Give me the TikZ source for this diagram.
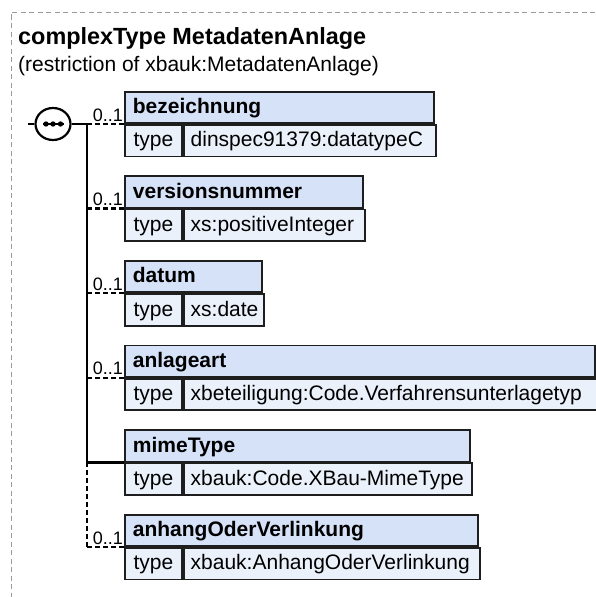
\documentclass[tikz,border=0pt]{standalone}
\usepackage{fontspec}
\setmainfont{Liberation Sans}
\usepackage{tikz}
\usetikzlibrary{positioning,shapes.geometric}
\definecolor{hdrblue}{HTML}{D6E2F7}
\definecolor{rowblue}{HTML}{EBF1FB}
\definecolor{boxline}{HTML}{1E1E1E}
\definecolor{frame}{HTML}{9A9A9A}

\begin{document}
\begin{tikzpicture}[x=1pt, y=-1pt,
  cell/.style={draw=boxline, line width=1.8pt, inner xsep=0pt, inner ysep=0pt,
    minimum height=31.5pt, text height=16pt, text depth=3.5pt,
    font=\fontsize{21}{24}\selectfont},
  hdrcell/.style={cell, fill=hdrblue, inner xsep=8pt, align=left,
    font=\fontsize{21}{24}\selectfont\bfseries},
  typecell/.style={cell, fill=rowblue, minimum width=57pt},
  valcell/.style={cell, fill=rowblue, inner xsep=7pt, align=left},
  wire/.style={line width=2.4pt, black},
  optwire/.style={wire, dash pattern=on 4.5pt off 3.5pt},
  mult/.style={inner sep=0pt, font=\fontsize{18}{20}\selectfont}]
\useasboundingbox (0,0) rectangle (595,597);
% outer frame
\draw[frame, line width=1pt, dash pattern=on 5pt off 3.5pt] (595,12) -- (11,12) -- (11,597);
\node[anchor=base west, inner sep=0pt, font=\fontsize{23.4}{26}\selectfont\bfseries] (title) at (18,44) {complexType MetadatenAnlage};
\node[anchor=base west, inner sep=0pt, font=\fontsize{21}{24}\selectfont] (restr) at (18,71) {(restriction of xbauk:MetadatenAnlage)};
% elements
\foreach \i/\nm/\typ/\dy/\vw in {
    1/bezeichnung/dinspec91379:datatypeC/124/252,
    2/versionsnummer/xs:positiveInteger/208.6/181,
    3/datum/xs:date/293.2/80,
    4/anlageart/xbeteiligung:Code.Verfahrensunterlagetyp/377.8/413,
    5/mimeType/xbauk:Code.XBau-MimeType/462.4/288,
    6/anhangOderVerlinkung/xbauk:AnhangOderVerlinkung/547/296}{
  \node[typecell, anchor=north west] (t\i) at (124,\dy) {type};
  \pgfmathsetmacro\vtw{\vw-14}
  \node[valcell, text width=\vtw pt, right=0pt of t\i] (v\i) {\typ};
  \pgfmathsetmacro\tw{57+\vw-16}
  \node[hdrcell, text width=\tw pt, anchor=south west] (h\i) at (t\i.north west) {\nm};
  \coordinate (j\i) at (87,\dy);
}
% sequence compositor
\coordinate (stub) at (28,124);
\node[ellipse, draw, fill=white, line width=2.2pt, minimum width=35pt, minimum height=32pt, inner sep=0pt] (seq) at (53,124) {};
\draw[line width=1.5pt] ([xshift=-10pt]seq.center) -- ([xshift=11pt]seq.center);
\foreach \dx in {-7,0,7.5}
  \fill ([xshift=\dx pt]seq.center) circle (2.7pt);
\draw[wire] (stub) -- (seq.west);
\draw[wire] (seq.east) -- (j1);
\draw[wire] (j1) -- (j5);
\draw[optwire] (j5) -- (j6);
\draw[wire] (j5) -- (t5.north west);
\foreach \i in {1,2,3,4,6}{
  \draw[optwire] (j\i) -- (t\i.north west);
  \node[mult, anchor=base east] (m\i) at ([xshift=-1pt, yshift=3pt]t\i.north west) {0..1};
}
\end{tikzpicture}
\end{document}
